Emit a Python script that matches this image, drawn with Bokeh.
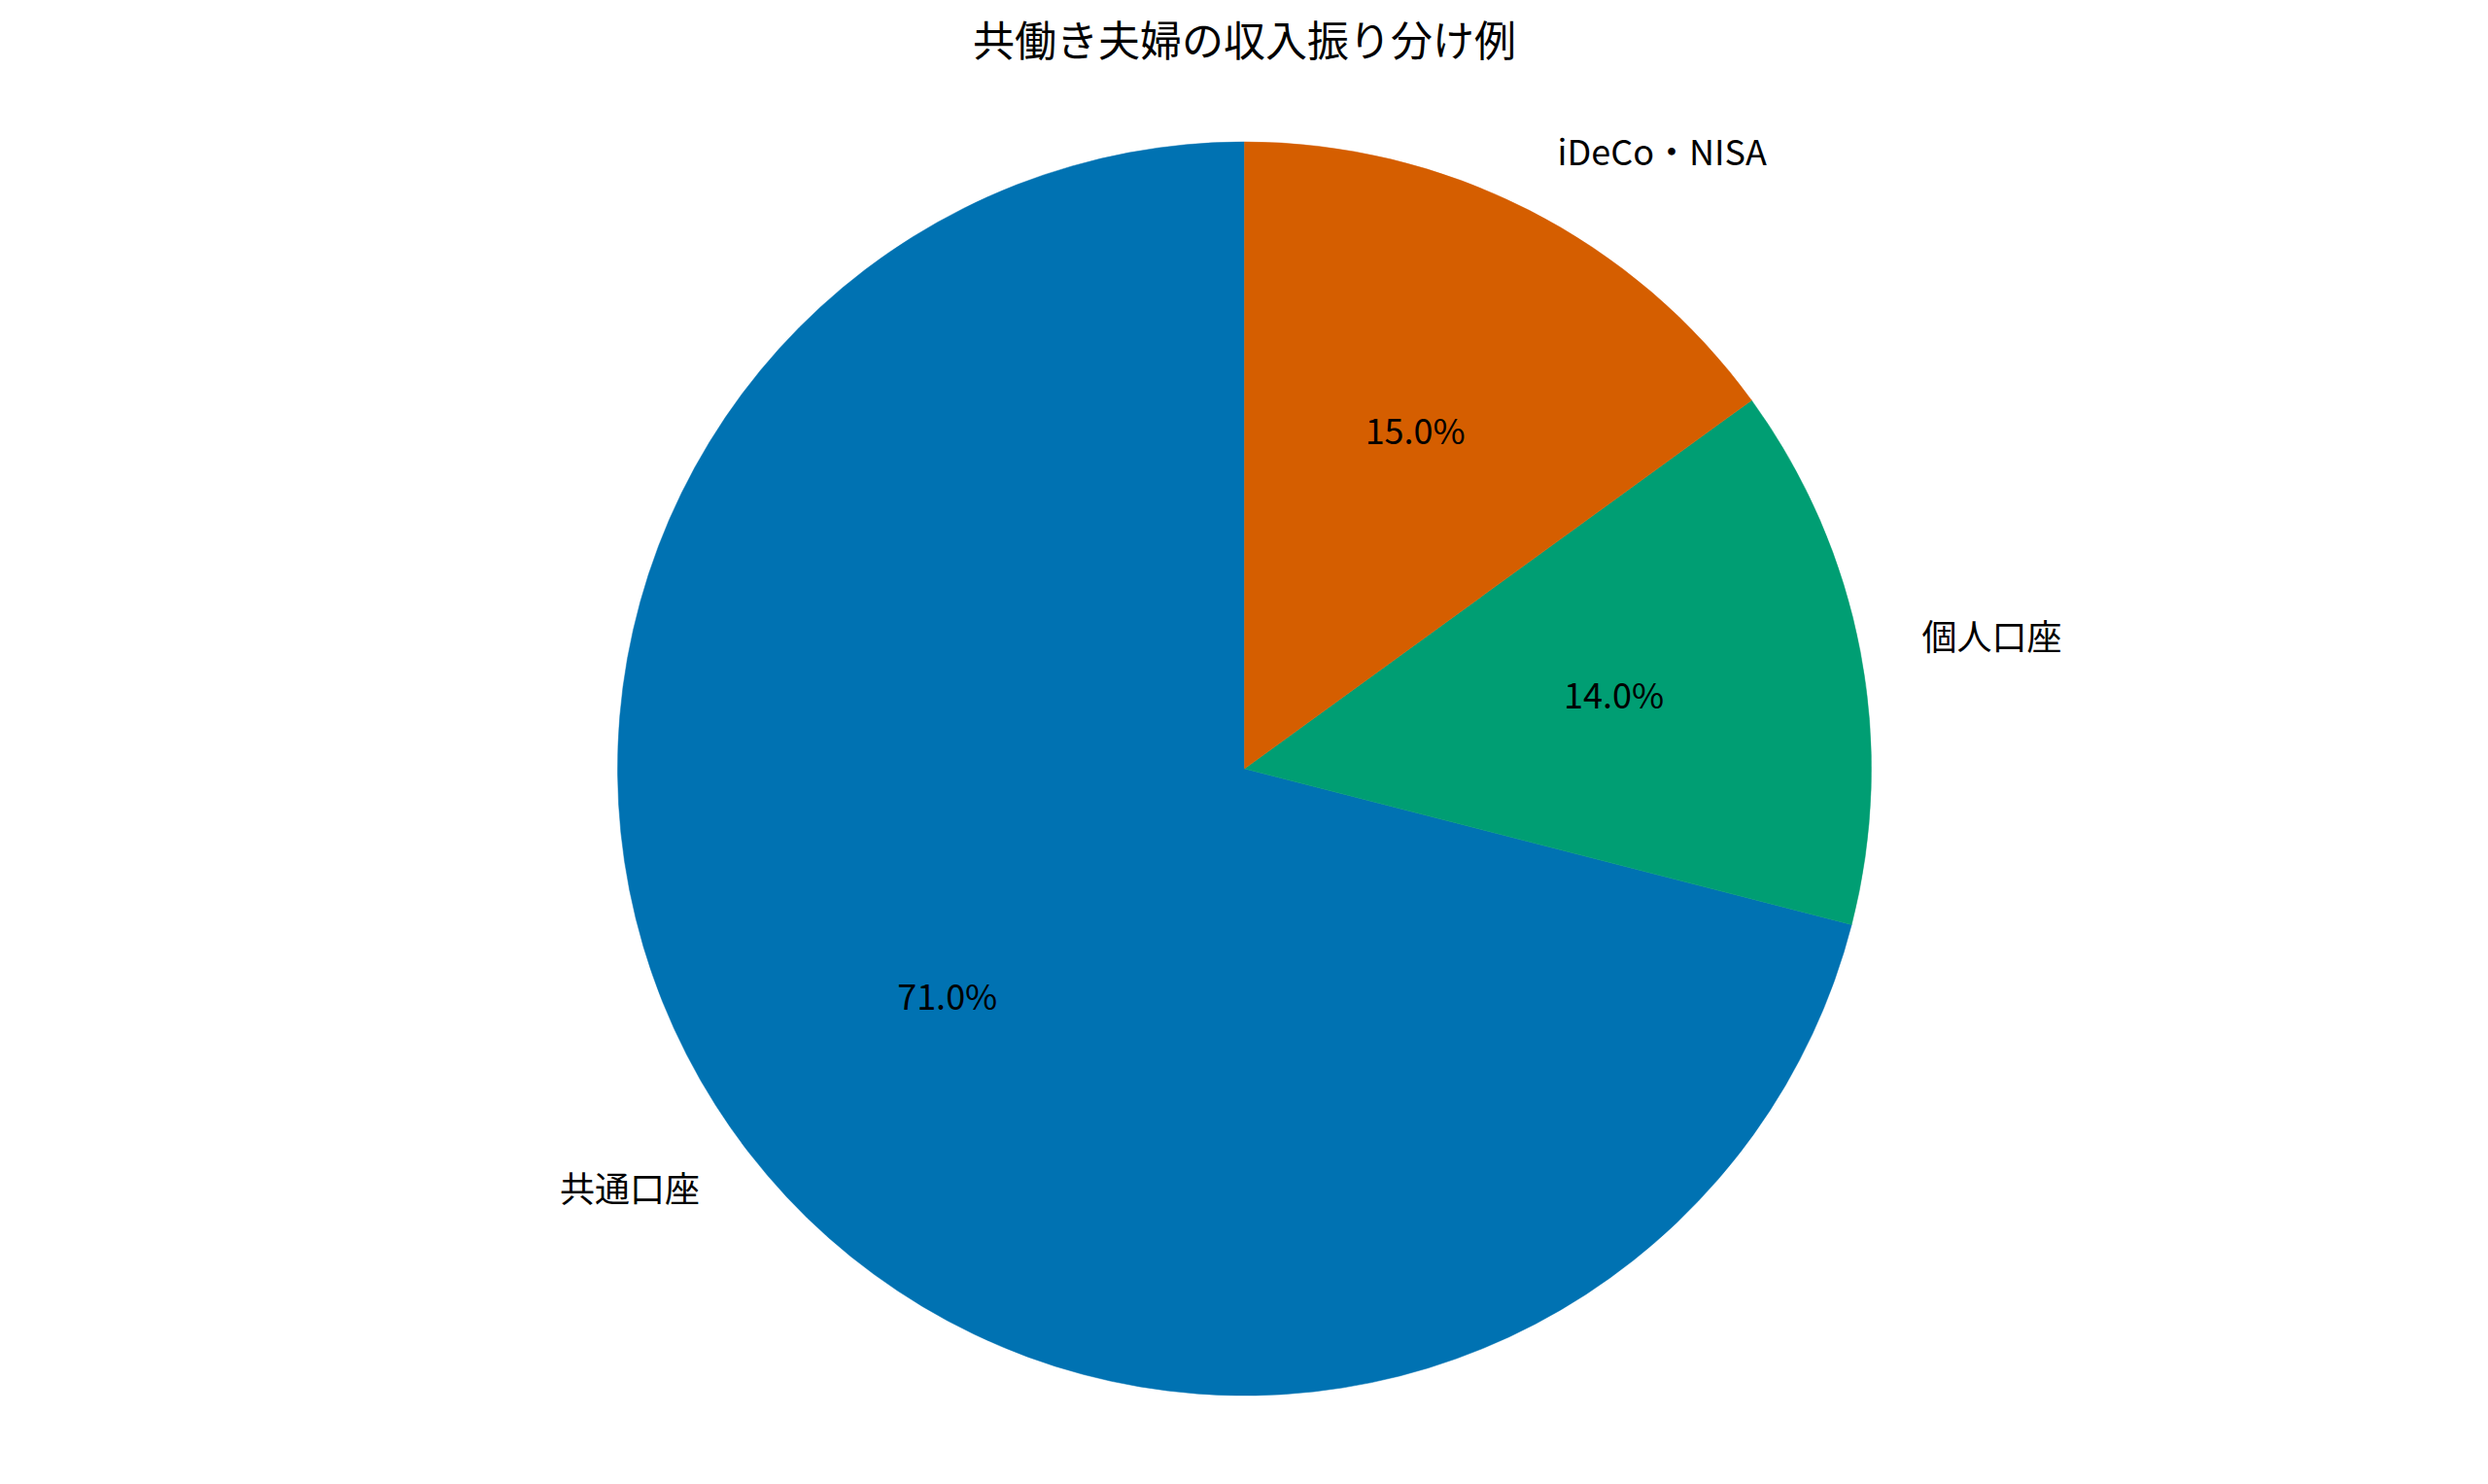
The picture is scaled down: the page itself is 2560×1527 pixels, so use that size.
import numpy as np
from bokeh.plotting import figure
from bokeh.models import Range1d, ColumnDataSource
from bokeh.core.properties import value
from bokeh.embed import file_html
from bokeh.resources import INLINE

title = "共働き夫婦の収入振り分け例"
categories = ["共通口座", "個人口座", "iDeCo・NISA"]
shares = [71.0, 14.0, 15.0]
colors = ["#0072B2", "#009E73", "#D55E00"]

FONT = "Noto Sans CJK JP"
W, H = 2544, 1511
# layout in reference pixels
CX, CY, R = 1280.0, 790.5, 645.0

x0 = -CX / R
x1 = (W - CX) / R
y_top = CY / R
y_bot = (CY - H) / R

p = figure(width=W, height=H, output_backend="svg", toolbar_location=None,
           x_range=Range1d(x0, x1), y_range=Range1d(y_bot, y_top),
           min_border=0, min_border_left=0, min_border_right=0,
           min_border_top=0, min_border_bottom=0)
p.axis.visible = False
p.grid.visible = False
p.outline_line_color = None
p.background_fill_color = "white"
p.border_fill_color = "white"

vals = np.array(shares, dtype=float)
frac = vals / vals.sum()
start_deg = 90.0 + 360.0 * np.concatenate([[0.0], np.cumsum(frac)[:-1]])
end_deg = 90.0 + 360.0 * np.cumsum(frac)
mid = np.deg2rad((start_deg + end_deg) / 2.0)

src = ColumnDataSource(dict(
    start=np.deg2rad(start_deg), end=np.deg2rad(end_deg), color=colors,
    cat=categories,
    lx=1.1 * np.cos(mid), ly=1.1 * np.sin(mid),
    px=0.6 * np.cos(mid), py=0.6 * np.sin(mid),
    pct=[f"{v:.1f}%" for v in frac * 100],
    align=["left" if c > 0 else "right" for c in np.cos(mid)],
))

p.wedge(x=0, y=0, radius=1.0, start_angle="start", end_angle="end",
        direction="anticlock", fill_color="color", line_color="color",
        line_width=0.5, source=src)

p.text(x="lx", y="ly", text="cat", text_align="align", text_baseline="middle",
       y_offset=-5, text_font=value(FONT), text_font_size="36px",
       text_color="black", source=src)
p.text(x="px", y="py", text="pct", text_align="center", text_baseline="middle",
       y_offset=-5, text_font=value(FONT), text_font_size="36px",
       text_color="black", source=src)

p.text(x=[0.0], y=[(CY - 38.0) / R], text=[title], text_align="center",
       text_baseline="middle", text_font=value(FONT), text_font_size="43px",
       text_color="black")

open("out.html", "w").write(file_html(p, INLINE))
